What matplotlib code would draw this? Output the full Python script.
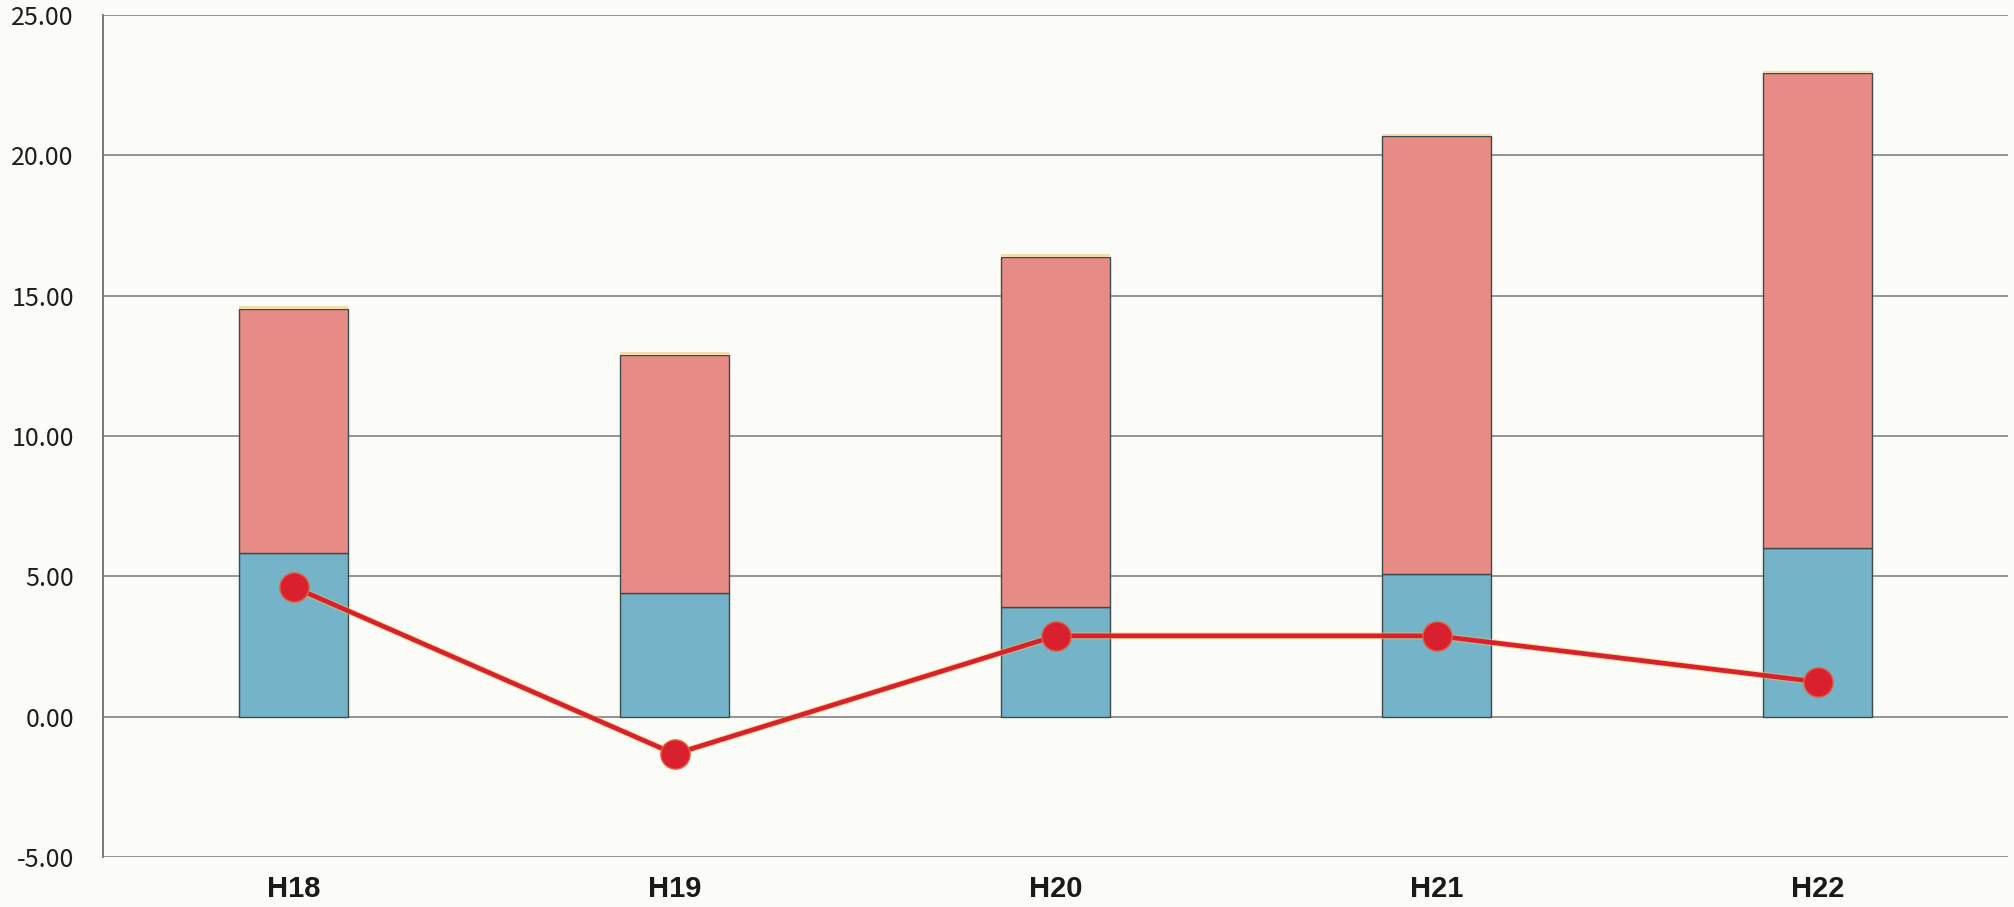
import matplotlib
matplotlib.use("Agg")
import matplotlib.pyplot as plt
import numpy as np

# Fiscal years (Heisei era)
years = ["H18", "H19", "H20", "H21", "H22"]

# Stacked bar components
lower_part = [5.82, 4.40, 3.89, 5.08, 6.00]
middle_part = [8.72, 8.50, 12.49, 15.62, 16.95]
top_part = [0.10, 0.08, 0.10, 0.06, 0.06]

# Line series
line_values = [4.62, -1.33, 2.88, 2.88, 1.24]

y_ticks = [-5, 0, 5, 10, 15, 20, 25]
y_tick_labels = ["-5.00", "0.00", "5.00", "10.00", "15.00", "20.00", "25.00"]

fig = plt.figure(figsize=(20.14, 9.07), dpi=100)
fig.patch.set_facecolor("#fbfbf8")
ax = fig.add_axes([0.0512, 0.0551, 0.946, 0.9284])
ax.set_facecolor("#fbfbf8")

x = np.arange(len(years))
width = 0.286
edge = "#3f4a4a"

ax.bar(x, lower_part, width, color="#74b3c8", edgecolor=edge, linewidth=1.0, zorder=3)
ax.bar(x, middle_part, width, bottom=lower_part, color="#e68b85", edgecolor=edge,
       linewidth=1.0, zorder=3)
bottom2 = np.array(lower_part) + np.array(middle_part)
ax.bar(x, top_part, width, bottom=bottom2, color="#f1dcae", edgecolor="none",
       linewidth=0, zorder=3)

# Line with a slight warm halo under the red stroke
ax.plot(x, line_values, color="#f2c94a", linewidth=5.0, zorder=4, alpha=0.5)
ax.plot(x, line_values, color="#d9202f", linewidth=3.4, marker="o", markersize=21,
        markerfacecolor="#d9202f", markeredgecolor="#e2603a", markeredgewidth=1.0,
        zorder=5)

ax.set_xlim(-0.5, len(years) - 0.5)
ax.set_ylim(-5, 25)
ax.set_yticks(y_ticks)
ax.set_yticklabels(y_tick_labels, fontfamily=["Noto Sans CJK JP", "DejaVu Sans"],
                   fontsize=18, color="#1e1e1e")
ax.set_xticks(x)
ax.set_xticklabels(years, fontfamily=["Liberation Sans", "DejaVu Sans"],
                   fontsize=21, fontweight="bold", color="#1a1a1a")

ax.grid(axis="y", color="#8c8c8c", linewidth=1.3, zorder=1)
ax.tick_params(axis="both", length=0)
ax.tick_params(axis="y", pad=21)
ax.tick_params(axis="x", pad=13)

for side in ["top", "right", "bottom"]:
    ax.spines[side].set_visible(False)
ax.spines["left"].set_color("#6e6e6e")
ax.spines["left"].set_linewidth(1.3)

fig.savefig("out.png", dpi=100, facecolor=fig.get_facecolor())
